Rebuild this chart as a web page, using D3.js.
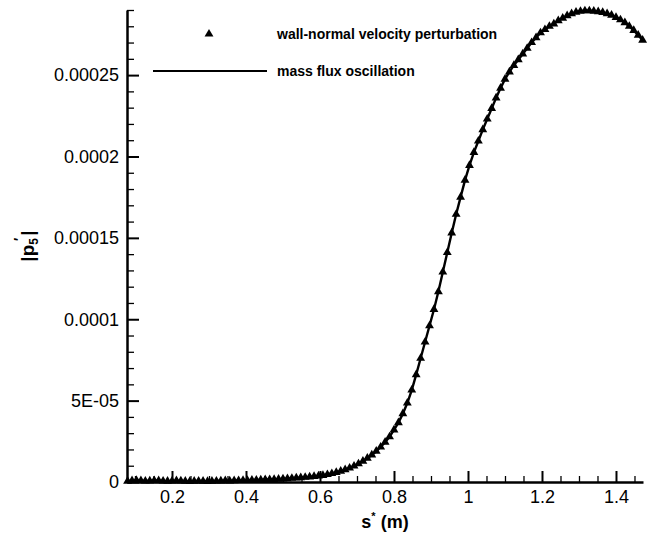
<!DOCTYPE html>
<html><head><meta charset="utf-8">
<script src="https://cdn.jsdelivr.net/npm/d3@7"></script>
<style>body{margin:0;background:#fff}svg{display:block}text{font-family:"Liberation Sans",Arial,Helvetica,sans-serif;fill:#000}</style>
</head><body>
<svg id="c" width="663" height="534"></svg>
<script>
// ---- data ----
const sValues = [0.080,0.092,0.104,0.116,0.128,0.140,0.152,0.164,0.176,0.188,
0.200,0.212,0.224,0.236,0.248,0.260,0.272,0.284,0.296,0.308,
0.320,0.332,0.344,0.356,0.368,0.380,0.392,0.404,0.416,0.428,
0.440,0.452,0.464,0.476,0.488,0.500,0.512,0.524,0.536,0.548,
0.560,0.572,0.584,0.596,0.608,0.620,0.632,0.644,0.656,0.668,
0.680,0.692,0.704,0.716,0.728,0.740,0.752,0.764,0.776,0.788,
0.800,0.812,0.824,0.836,0.848,0.860,0.872,0.884,0.896,0.908,
0.920,0.932,0.944,0.956,0.968,0.980,0.992,1.004,1.016,1.028,
1.040,1.052,1.064,1.076,1.088,1.100,1.112,1.124,1.136,1.148,
1.160,1.172,1.184,1.196,1.208,1.220,1.232,1.244,1.256,1.268,
1.280,1.292,1.304,1.316,1.328,1.340,1.352,1.364,1.376,1.388,
1.400,1.412,1.424,1.436,1.448,1.460,1.472];
const pValues = [0.05e-5,0.08e-5,0.10e-5,0.08e-5,0.06e-5,0.07e-5,0.09e-5,0.08e-5,0.06e-5,0.05e-5,
0.06e-5,0.08e-5,0.07e-5,0.05e-5,0.04e-5,0.05e-5,0.06e-5,0.05e-5,0.04e-5,0.05e-5,
0.06e-5,0.07e-5,0.08e-5,0.07e-5,0.08e-5,0.09e-5,0.10e-5,0.10e-5,0.11e-5,0.12e-5,
0.13e-5,0.14e-5,0.15e-5,0.16e-5,0.17e-5,0.19e-5,0.21e-5,0.23e-5,0.25e-5,0.27e-5,
0.29e-5,0.31e-5,0.34e-5,0.37e-5,0.41e-5,0.46e-5,0.52e-5,0.59e-5,0.67e-5,0.76e-5,
0.86e-5,0.98e-5,1.12e-5,1.28e-5,1.46e-5,1.66e-5,1.89e-5,2.15e-5,2.45e-5,2.78e-5,
3.20e-5,3.65e-5,4.20e-5,4.85e-5,5.65e-5,6.60e-5,7.60e-5,8.60e-5,9.60e-5,10.6e-5,
11.7e-5,12.9e-5,14.1e-5,15.3e-5,16.45e-5,17.5e-5,18.55e-5,19.45e-5,20.25e-5,20.95e-5,
21.65e-5,22.3e-5,22.95e-5,23.6e-5,24.2e-5,24.75e-5,25.2e-5,25.6e-5,25.95e-5,26.3e-5,
26.65e-5,27.0e-5,27.3e-5,27.6e-5,27.8e-5,28.0e-5,28.15e-5,28.35e-5,28.5e-5,28.65e-5,
28.78e-5,28.87e-5,28.92e-5,28.95e-5,28.95e-5,28.93e-5,28.9e-5,28.85e-5,28.78e-5,28.68e-5,
28.55e-5,28.4e-5,28.22e-5,28.0e-5,27.75e-5,27.45e-5,27.15e-5];
const xTickValues = [0.2,0.4,0.6,0.8,1.0,1.2,1.4];
const xTickLabels = ["0.2","0.4","0.6","0.8","1","1.2","1.4"];
const yTickValues = [0,5e-5,1e-4,1.5e-4,2e-4,2.5e-4];
const yTickLabels = ["0","5E-05","0.0001","0.00015","0.0002","0.00025"];
const legendLabels = ["wall-normal velocity perturbation","mass flux oscillation"];

// ---- layout ----
const svg = d3.select("#c");
const L = 127, R = 643, T = 10, B = 482;
const x = d3.scaleLinear().domain([0.0784, 1.473]).range([L, R]);
const y = d3.scaleLinear().domain([0, 2.9e-4]).range([B, T]);

const data = sValues.map((s,i)=>({s, p:pValues[i]}));

// minor ticks
const xMinor = d3.range(0.1, 1.47, 0.05).filter(v => !xTickValues.some(t => Math.abs(t-v)<1e-6));
const yMinor = d3.range(1e-5, 2.95e-4, 1e-5).filter(v => !yTickValues.some(t => Math.abs(t-v)<1e-9));

const gx = svg.append("g").attr("transform",`translate(0,${B})`);
gx.call(d3.axisBottom(x).tickValues(xMinor).tickSizeInner(-6).tickSizeOuter(0).tickFormat(""))
  .call(g=>g.select(".domain").remove())
  .call(g=>g.selectAll("line").attr("stroke","#000").attr("stroke-width",1.3));
gx.append("g").call(d3.axisBottom(x).tickValues(xTickValues).tickSizeInner(-11).tickSizeOuter(0).tickPadding(8)
  .tickFormat((d,i)=>xTickLabels[i]))
  .call(g=>g.select(".domain").attr("stroke","#000").attr("stroke-width",2.5))
  .call(g=>g.selectAll("line").attr("stroke","#000").attr("stroke-width",2))
  .call(g=>g.selectAll("text").attr("font-size",18).attr("fill","#000").attr("y",null).attr("dy",null).attr("transform","translate(0,21)"));

const gy = svg.append("g").attr("transform",`translate(${L},0)`);
gy.call(d3.axisLeft(y).tickValues(yMinor).tickSizeInner(-7).tickSizeOuter(0).tickFormat(""))
  .call(g=>g.select(".domain").remove())
  .call(g=>g.selectAll("line").attr("stroke","#000").attr("stroke-width",1.3));
gy.append("g").call(d3.axisLeft(y).tickValues(yTickValues).tickSizeInner(-12).tickSizeOuter(0).tickPadding(8)
  .tickFormat((d,i)=>yTickLabels[i]))
  .call(g=>g.select(".domain").attr("stroke","#000").attr("stroke-width",2.5))
  .call(g=>g.selectAll("line").attr("stroke","#000").attr("stroke-width",2))
  .call(g=>g.selectAll("text").attr("font-size",18).attr("fill","#000"));
svg.selectAll(".tick text").attr("font-family",'"Liberation Sans",Arial,sans-serif');

// line
svg.append("path").datum(data)
  .attr("fill","none").attr("stroke","#000").attr("stroke-width",2.4)
  .attr("d", d3.line().x(d=>x(d.s)).y(d=>y(d.p)));

// markers
const tri = d3.symbol().type(d3.symbolTriangle).size(34);
svg.append("g").selectAll("path").data(data).join("path")
  .attr("d", tri).attr("fill","#000")
  .attr("transform", d=>`translate(${x(d.s)},${y(d.p)})`);

// legend
svg.append("path").attr("d", d3.symbol().type(d3.symbolTriangle).size(34)).attr("fill","#000")
  .attr("transform","translate(209,34)");
svg.append("text").attr("x",277).attr("y",39).attr("font-size",14).attr("font-weight","bold").text(legendLabels[0]);
svg.append("line").attr("x1",153).attr("x2",267).attr("y1",71).attr("y2",71).attr("stroke","#000").attr("stroke-width",2.2);
svg.append("text").attr("x",277).attr("y",76).attr("font-size",14).attr("font-weight","bold").text(legendLabels[1]);

// axis titles
const xt = svg.append("text").attr("x",(L+R)/2).attr("y",528).attr("text-anchor","middle")
  .attr("font-size",18).attr("font-weight","bold");
xt.append("tspan").text("s");
xt.append("tspan").attr("font-size",11).attr("dy",-8).text("*");
xt.append("tspan").attr("dy",8).text(" (m)");

const yt = svg.append("text").attr("transform",`translate(34,${(T+B)/2}) rotate(-90)`)
  .attr("text-anchor","middle").attr("font-size",19).attr("font-weight","bold");
yt.append("tspan").text("|p");
yt.append("tspan").attr("font-size",12).attr("dy",4).text("5");
yt.append("tspan").attr("font-size",14).attr("dy",-14).attr("dx",-3).text("′");
yt.append("tspan").attr("dy",10).attr("dx",2).text("|");
</script>
</body></html>
